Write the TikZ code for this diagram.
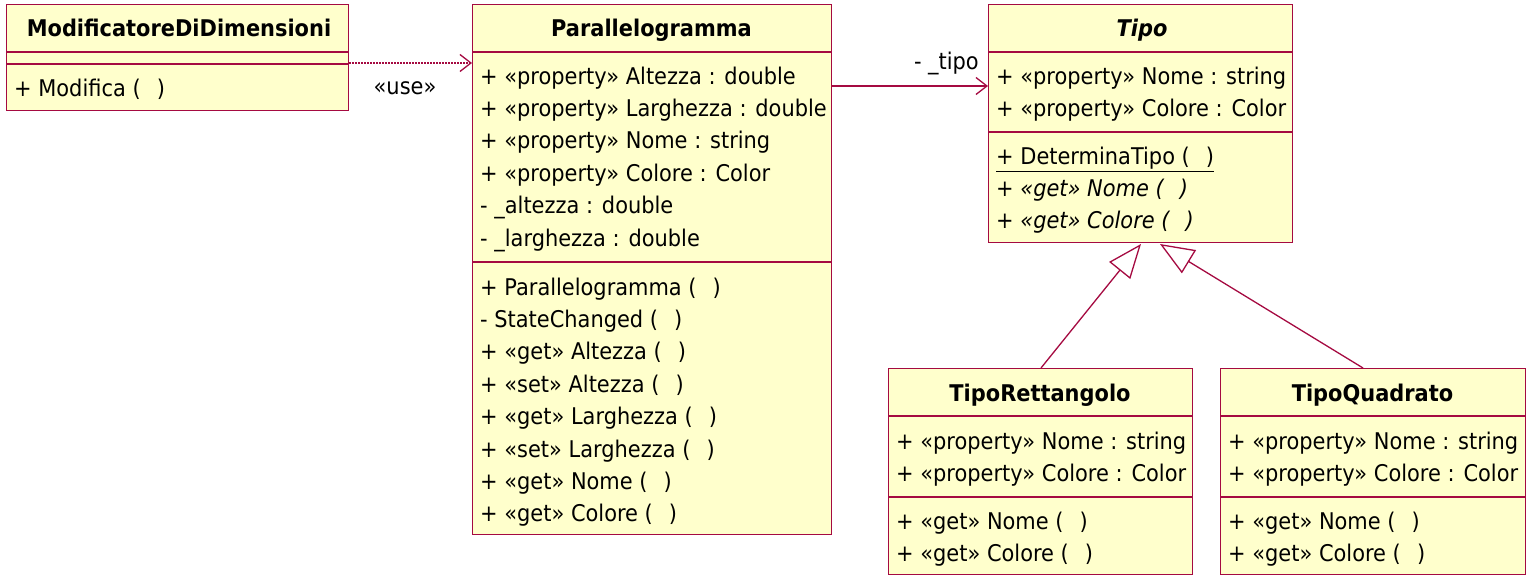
\documentclass[tikz,border=0pt]{standalone}
\usepackage{fontspec}
\setmainfont{DejaVu Sans}[FakeStretch=0.91]
\usetikzlibrary{arrows.meta}
\definecolor{bord}{RGB}{165,10,65}
\definecolor{fillc}{RGB}{255,255,204}
\newcommand{\pr}{(\hspace{0.7em})}
\begin{document}
\begin{tikzpicture}[x=1pt,y=-1pt,
  cls/.style={draw=bord,fill=fillc,line width=1.3pt,rectangle,inner sep=0pt,anchor=north west},
  sep/.style={draw=bord,line width=1.3pt},
  txt/.style={anchor=base west,inner sep=0pt,font=\fontsize{23}{28}\selectfont},
  ttl/.style={anchor=base,inner sep=0pt,font=\fontsize{23}{28}\selectfont\bfseries},
  assoc/.style={draw=bord,line width=1.3pt,-{Straight Barb[length=11pt,width=17pt]}},
  dep/.style={draw=bord,line width=1.4pt,dash pattern=on 1.6pt off 1.4pt,-{Straight Barb[length=11pt,width=17pt,line width=1.3pt]}},
  gen/.style={draw=bord,line width=1.3pt,-{Triangle[open,length=34pt,width=27pt,fill=white]}},
  lbl/.style={inner sep=0pt,font=\fontsize{23}{28}\selectfont}]
\useasboundingbox (0,0) rectangle (1532,580);
% ModificatoreDiDimensioni
\node[cls,minimum width=342pt,minimum height=106pt] (mod) at (6,4) {};
\draw[sep] (6,52) -- (348,52);
\draw[sep] (6,64) -- (348,64);
\node[ttl] (modT) at (179,37) {ModificatoreDiDimensioni};
\node[txt] (modO1) at (14,97) {+ Modifica \pr};
% Parallelogramma
\node[cls,minimum width=359pt,minimum height=530pt] (par) at (472,4) {};
\draw[sep] (472,52) -- (831,52);
\draw[sep] (472,262) -- (831,262);
\node[ttl] (parT) at (651.5,37) {Parallelogramma};
\node[txt] (parA1) at (480,85) {+ «property» Altezza : double};
\node[txt] (parA2) at (480,117) {+ «property» Larghezza : double};
\node[txt] (parA3) at (480,149) {+ «property» Nome : string};
\node[txt] (parA4) at (480,182) {+ «property» Colore : Color};
\node[txt] (parA5) at (480,214) {- \_altezza : double};
\node[txt] (parA6) at (480,247) {- \_larghezza : double};
\node[txt] (parO1) at (480,295) {+ Parallelogramma \pr};
\node[txt] (parO2) at (480,327) {- StateChanged \pr};
\node[txt] (parO3) at (480,359) {+ «get» Altezza \pr};
\node[txt] (parO4) at (480,392) {+ «set» Altezza \pr};
\node[txt] (parO5) at (480,424) {+ «get» Larghezza \pr};
\node[txt] (parO6) at (480,457) {+ «set» Larghezza \pr};
\node[txt] (parO7) at (480,489) {+ «get» Nome \pr};
\node[txt] (parO8) at (480,521) {+ «get» Colore \pr};
% Tipo
\node[cls,minimum width=304pt,minimum height=238pt] (tipo) at (988,4) {};
\draw[sep] (988,52) -- (1292,52);
\draw[sep] (988,132) -- (1292,132);
\node[ttl,font=\fontsize{23}{28}\selectfont\bfseries\itshape] (tipoT) at (1142,37) {Tipo};
\node[txt] (tipoA1) at (996,85) {+ «property» Nome : string};
\node[txt] (tipoA2) at (996,117) {+ «property» Colore : Color};
\node[txt] (tipoO1) at (996,165) {\underline{+ DeterminaTipo \pr}};
\node[txt,font=\fontsize{23}{28}\selectfont\itshape] (tipoO2) at (996,197) {+ «get» Nome \pr};
\node[txt,font=\fontsize{23}{28}\selectfont\itshape] (tipoO3) at (996,229) {+ «get» Colore \pr};
% TipoRettangolo
\node[cls,minimum width=304pt,minimum height=206pt] (ret) at (888,368) {};
\draw[sep] (888,416) -- (1192,416);
\draw[sep] (888,497) -- (1192,497);
\node[ttl] (retT) at (1040,401) {TipoRettangolo};
\node[txt] (retA1) at (896,449) {+ «property» Nome : string};
\node[txt] (retA2) at (896,481) {+ «property» Colore : Color};
\node[txt] (retO1) at (896,529) {+ «get» Nome \pr};
\node[txt] (retO2) at (896,561) {+ «get» Colore \pr};
% TipoQuadrato
\node[cls,minimum width=305pt,minimum height=206pt] (qua) at (1220,368) {};
\draw[sep] (1220,416) -- (1525,416);
\draw[sep] (1220,497) -- (1525,497);
\node[ttl] (quaT) at (1372.5,401) {TipoQuadrato};
\node[txt] (quaA1) at (1228,449) {+ «property» Nome : string};
\node[txt] (quaA2) at (1228,481) {+ «property» Colore : Color};
\node[txt] (quaO1) at (1228,529) {+ «get» Nome \pr};
\node[txt] (quaO2) at (1228,561) {+ «get» Colore \pr};
% connectors
\coordinate (useY) at (0,63);
\coordinate (tipY) at (0,86);
\draw[dep] (mod.east |- useY) -- (par.west |- useY);
\node[lbl] (useL) at (405,88) {«use»};
\draw[assoc] (par.east |- tipY) -- (tipo.west |- tipY);
\node[lbl,anchor=east] (tipL) at (979,63) {- \_tipo};
\coordinate (g1) at (1141,244);
\coordinate (g2) at (1160,244);
\coordinate (r1) at (1041,368);
\coordinate (q1) at (1363,368);
\draw[gen] (r1) -- (g1);
\draw[gen] (q1) -- (g2);
\end{tikzpicture}
\end{document}
